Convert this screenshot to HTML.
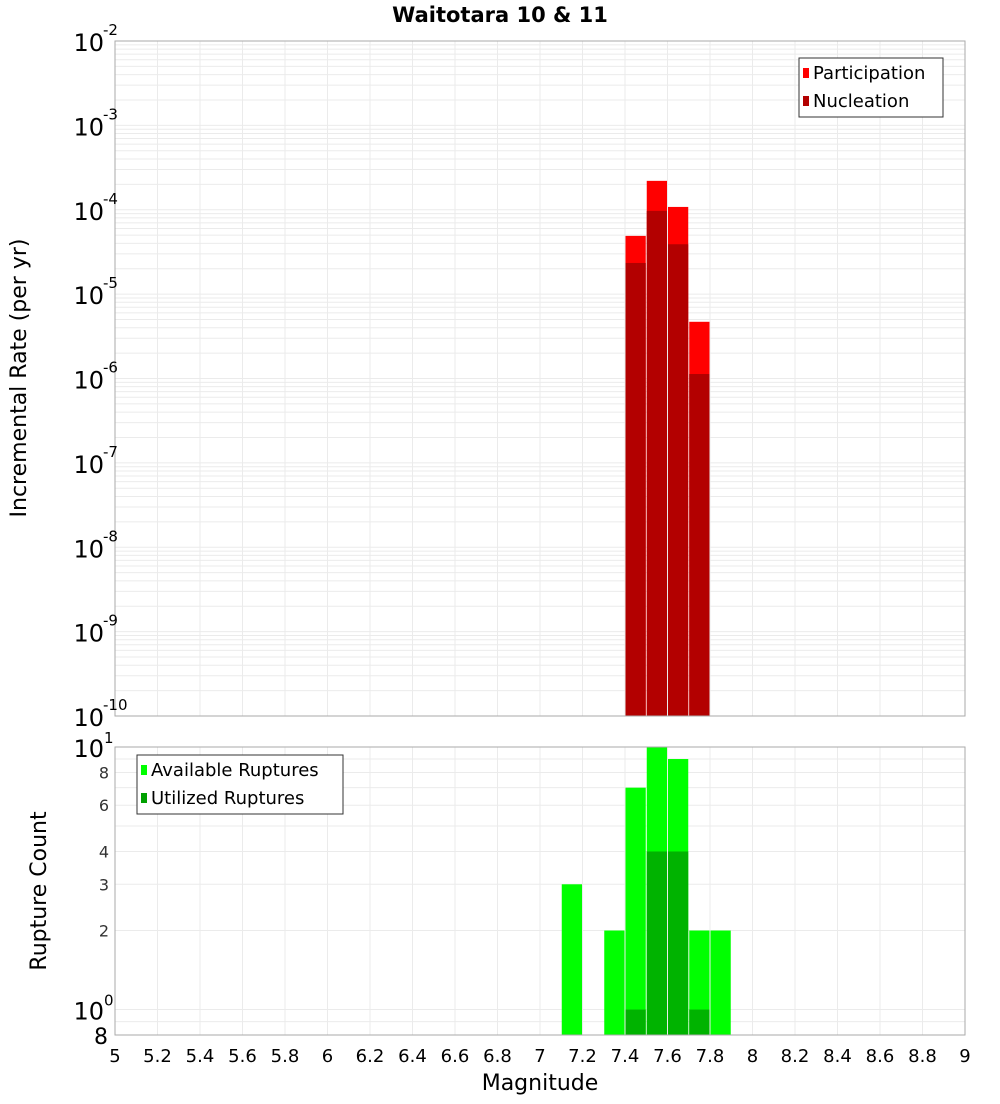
<!DOCTYPE html>
<html><head><meta charset="utf-8">
<style>
body{margin:0;background:#fff;font-family:"DejaVu Sans","Liberation Sans",sans-serif;}
svg text{font-family:"DejaVu Sans","Liberation Sans",sans-serif;}
</style></head>
<body>
<svg id="chart" width="1000" height="1100" xmlns="http://www.w3.org/2000/svg">
<text x="500" y="22" text-anchor="middle" font-size="21" font-weight="bold">Waitotara 10 &amp; 11</text>
<text transform="translate(26,378) rotate(-90)" text-anchor="middle" font-size="22">Incremental Rate (per yr)</text>
<text transform="translate(46,891) rotate(-90)" text-anchor="middle" font-size="22">Rupture Count</text>
<text x="540" y="1090" text-anchor="middle" font-size="22">Magnitude</text>
<g id="g"></g>
</svg>
<script>
const mags = [7.45, 7.55, 7.65, 7.75];
const participation = [4.9e-5, 2.2e-4, 1.08e-4, 4.7e-6];
const nucleation = [2.34e-5, 9.7e-5, 3.9e-5, 1.13e-6];
const countMags = [7.15, 7.35, 7.45, 7.55, 7.65, 7.75, 7.85];
const available = [3, 2, 7, 10, 9, 2, 2];
const utilizedMags = [7.45, 7.55, 7.65, 7.75];
const utilized = [1, 4, 4, 1];
const xTicks = [5,5.2,5.4,5.6,5.8,6,6.2,6.4,6.6,6.8,7,7.2,7.4,7.6,7.8,8,8.2,8.4,8.6,8.8,9];
const topExps = [-2,-3,-4,-5,-6,-7,-8,-9,-10];
const botTicks = [8,6,4,3,2];

const NS="http://www.w3.org/2000/svg";
const g=document.getElementById('g');
function el(t,a,txt){const e=document.createElementNS(NS,t);for(const k in a)e.setAttribute(k,a[k]);if(txt!==undefined)e.textContent=txt;g.appendChild(e);return e;}
const X0=115,X1=965;
const xs=m=>X0+(m-5)/4*(X1-X0);
const T0=41,T1=716;
const yTop=v=>T0+(-2-Math.log10(v))/8*(T1-T0);
const B0=747,B1=1035;
const yBot=v=>B0+(1-Math.log10(v))/(1-Math.log10(0.8))*(B1-B0);
const bw=(X1-X0)/40;

// top grid
for(let e=-10;e<-2;e++)for(let k=1;k<10;k++){const y=yTop(k*Math.pow(10,e));
 let r=el('line',{x1:X0,x2:X1,y1:y,y2:y,stroke:'#ebebeb','stroke-width':1});
 }
for(const t of xTicks){for(const [a,b] of [[T0,T1],[B0,B1]]){
 let r=el('line',{x1:xs(t),x2:xs(t),y1:a,y2:b,stroke:'#ebebeb','stroke-width':1});
 }}
for(let v=1;v<=10;v++){const y=yBot(v);
 let r=el('line',{x1:X0,x2:X1,y1:y,y2:y,stroke:'#ebebeb','stroke-width':1});
 }
{const y=yBot(0.9);let r=el('line',{x1:X0,x2:X1,y1:y,y2:y,stroke:'#ebebeb'});
 }

// top bars
mags.forEach((m,i)=>{
 let r=el('rect',{x:xs(m)-bw/2+0.5,y:yTop(participation[i]),width:bw-1,height:T1-yTop(participation[i]),fill:'#ff0000'});
 
 r=el('rect',{x:xs(m)-bw/2+0.5,y:yTop(nucleation[i]),width:bw-1,height:T1-yTop(nucleation[i]),fill:'#b30000'});
 
});
countMags.forEach((m,i)=>{
 let r=el('rect',{x:xs(m)-bw/2+0.5,y:yBot(available[i]),width:bw-1,height:B1-yBot(available[i]),fill:'#00ff00'});
 
});
utilizedMags.forEach((m,i)=>{
 let r=el('rect',{x:xs(m)-bw/2+0.5,y:yBot(utilized[i]),width:bw-1,height:B1-yBot(utilized[i]),fill:'#00b300'});
 
});

// frames
let f=el('rect',{x:X0,y:T0,width:X1-X0,height:T1-T0,fill:'none',stroke:'#aaa'});

f=el('rect',{x:X0,y:B0,width:X1-X0,height:B1-B0,fill:'none',stroke:'#aaa'});


// x tick labels
for(const t of xTicks){let s=el('text',{x:xs(t),y:1062,'text-anchor':'middle','font-size':18},String(t));
 }
// top y labels
for(const e of topExps){const y=yTop(Math.pow(10,e));
 let s=el('text',{x:104,y:y+10,'text-anchor':'end','font-size':24},'10');
 
 let p=el('text',{x:103,y:y-6,'text-anchor':'start','font-size':15},String(e));
 }
// bottom y labels
[[1,'10','1'],[1,'',''],[0,'10','0']].forEach(()=>{});
for(const [v,ex] of [[10,'1'],[1,'0']]){const y=yBot(v);
 let s=el('text',{x:104,y:y+10,'text-anchor':'end','font-size':24},'10');
 
 let p=el('text',{x:104,y:y-4,'text-anchor':'start','font-size':15},ex);
 }
for(const v of botTicks){const y=yBot(v);
 let s=el('text',{x:109,y:y+6,'text-anchor':'end','font-size':16,fill:'#333'},String(v));
 }
{let s=el('text',{x:108,y:B1+9,'text-anchor':'end','font-size':22},'8');
 }

// legends
function legend(x,y,w,h,items,name){
 let b=el('rect',{x:x,y:y,width:w,height:h,fill:'#fff',stroke:'#333'});
 
 items.forEach((it,i)=>{
  let sw=el('rect',{x:x+4,y:y+10+i*28,width:6,height:10,fill:it[1]});
  
  let t=el('text',{x:x+14,y:y+21+i*28,'font-size':18},it[0]);
  
 });
}
legend(799,58,144,59,[['Participation','#ff0000'],['Nucleation','#b30000']],'top-legend');
legend(137,755,206,59,[['Available Ruptures','#00ff00'],['Utilized Ruptures','#00a000']],'bottom-legend');
</script>
</body></html>
